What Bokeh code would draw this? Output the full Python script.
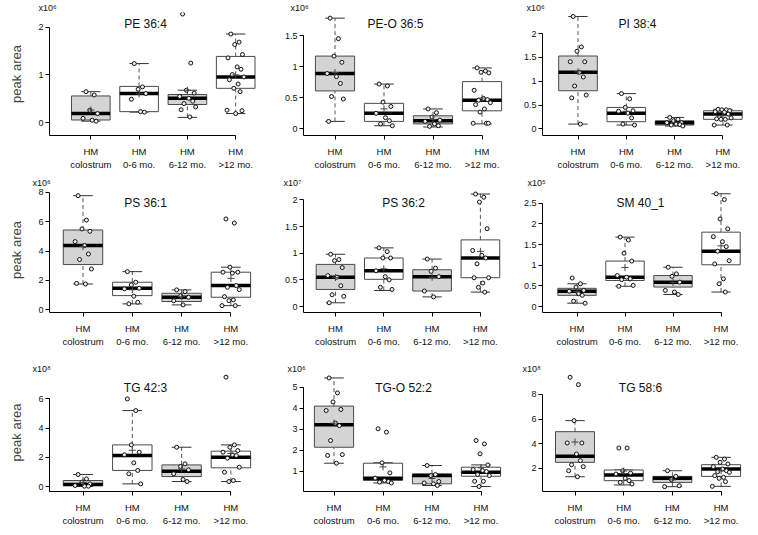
import numpy as np
from bokeh.plotting import figure
from bokeh.layouts import column, row
from bokeh.models import Range1d, FixedTicker, NumeralTickFormatter, Label
from bokeh.embed import file_html
from bokeh.resources import INLINE

# ---------------- data ----------------
CATEGORIES = ["HM\ncolostrum", "HM\n0-6 mo.", "HM\n6-12 mo.", "HM\n>12 mo."]
TITLES = ["PE 36:4", "PE-O 36:5", "PI 38:4",
          "PS 36:1", "PS 36:2", "SM 40_1",
          "TG 42:3", "TG-O 52:2", "TG 58:6"]
EXPONENTS = ["x10\u2076", "x10\u2076", "x10\u2076",
             "x10\u2076", "x10\u2077", "x10\u2075",
             "x10\u2078", "x10\u2076", "x10\u2078"]

# box stats per group: [whisker low, q1, median, q3, whisker high]
pe364_box = [[0.03, 0.055, 0.19, 0.56, 0.65], [0.22, 0.23, 0.61, 0.76, 1.24],
             [0.11, 0.38, 0.51, 0.59, 0.68], [0.19, 0.72, 0.96, 1.39, 1.86]]
pe364_pts = [[0.65, 0.58, 0.26, 0.19, 0.09, 0.05, 0.03],
             [1.24, 0.75, 0.70, 0.61, 0.49, 0.23, 0.22],
             [2.28, 1.25, 0.68, 0.62, 0.55, 0.51, 0.45, 0.40, 0.33, 0.27, 0.12],
             [1.86, 1.69, 1.64, 1.43, 1.36, 1.17, 1.12, 1.01, 0.96, 0.90, 0.81, 0.72, 0.65, 0.26, 0.25, 0.19]]
pe364_ticks = [0, 1, 2]

peo365_box = [[0.12, 0.61, 0.89, 1.17, 1.78], [0.05, 0.12, 0.25, 0.41, 0.72],
              [0.03, 0.08, 0.13, 0.21, 0.32], [0.08, 0.29, 0.46, 0.76, 0.98]]
peo365_pts = [[1.78, 1.45, 1.17, 1.07, 0.89, 0.84, 0.73, 0.52, 0.48, 0.12],
              [0.72, 0.69, 0.43, 0.36, 0.25, 0.18, 0.13, 0.08, 0.05],
              [0.32, 0.26, 0.19, 0.14, 0.12, 0.08, 0.05, 0.04],
              [0.98, 0.93, 0.91, 0.90, 0.62, 0.49, 0.47, 0.46, 0.42, 0.39, 0.32, 0.27, 0.09, 0.09, 0.09]]
peo365_ticks = [0, 0.5, 1, 1.5]

pi384_box = [[0.10, 0.80, 1.19, 1.53, 2.36], [0.08, 0.15, 0.33, 0.45, 0.74],
             [0.06, 0.08, 0.13, 0.17, 0.24], [0.08, 0.20, 0.31, 0.38, 0.41]]
pi384_pts = [[2.36, 1.72, 1.63, 1.41, 1.41, 1.19, 1.09, 0.90, 0.71, 0.65, 0.10],
             [0.74, 0.63, 0.45, 0.38, 0.37, 0.33, 0.23, 0.10, 0.08],
             [0.24, 0.20, 0.17, 0.13, 0.13, 0.10, 0.09, 0.08, 0.06],
             [0.41, 0.40, 0.40, 0.38, 0.36, 0.35, 0.31, 0.24, 0.23, 0.21, 0.20, 0.20, 0.08, 0.08]]
pi384_ticks = [0, 0.5, 1, 1.5, 2]

ps361_box = [[1.76, 3.08, 4.37, 5.43, 7.76], [0.41, 0.97, 1.47, 1.88, 2.60],
             [0.34, 0.57, 0.86, 1.13, 1.36], [0.29, 0.86, 1.65, 2.56, 2.90]]
ps361_pts = [[7.76, 6.10, 5.50, 5.34, 4.64, 4.37, 3.80, 3.42, 2.78, 1.80, 1.76],
             [2.60, 1.88, 1.70, 1.47, 1.43, 0.93, 0.52, 0.41],
             [1.36, 1.24, 0.95, 0.86, 0.62, 0.34],
             [6.18, 5.90, 2.90, 2.56, 2.56, 2.50, 1.65, 1.54, 1.38, 0.90, 0.68, 0.63, 0.29, 0.29]]
ps361_ticks = [0, 2, 4, 6, 8]

ps362_box = [[0.07, 0.32, 0.55, 0.79, 0.98], [0.30, 0.51, 0.67, 0.91, 1.10],
             [0.18, 0.29, 0.56, 0.69, 0.89], [0.27, 0.54, 0.91, 1.25, 2.11]]
ps362_pts = [[0.98, 0.88, 0.86, 0.73, 0.58, 0.55, 0.39, 0.22, 0.19, 0.07],
             [1.10, 1.03, 0.91, 0.91, 0.67, 0.56, 0.50, 0.36, 0.32],
             [0.89, 0.72, 0.66, 0.56, 0.29, 0.18],
             [2.11, 2.05, 1.96, 1.46, 1.05, 0.96, 0.91, 0.80, 0.54, 0.54, 0.44, 0.36, 0.27]]
ps362_ticks = [0, 0.5, 1, 1.5, 2]

sm401_box = [[0.08, 0.27, 0.37, 0.44, 0.55], [0.49, 0.63, 0.71, 1.10, 1.68],
             [0.29, 0.47, 0.59, 0.75, 0.95], [0.35, 1.01, 1.34, 1.80, 2.73]]
sm401_pts = [[0.69, 0.55, 0.47, 0.39, 0.37, 0.31, 0.27, 0.13, 0.08],
             [1.68, 1.61, 1.29, 1.10, 0.75, 0.71, 0.67, 0.65, 0.51, 0.49],
             [0.95, 0.79, 0.73, 0.59, 0.39, 0.35, 0.29],
             [2.73, 2.59, 2.12, 1.88, 1.69, 1.57, 1.45, 1.34, 1.11, 1.03, 0.67, 0.55, 0.35]]
sm401_ticks = [0, 0.5, 1, 1.5, 2, 2.5]

tg423_box = [[0.0, 0.07, 0.14, 0.41, 0.82], [0.18, 1.10, 2.12, 2.85, 5.20],
             [0.34, 0.68, 1.05, 1.48, 2.69], [0.34, 1.28, 2.01, 2.42, 2.85]]
tg423_pts = [[0.82, 0.52, 0.30, 0.18, 0.07, 0.02, 0.02],
             [6.00, 5.20, 2.85, 2.35, 2.17, 1.62, 1.10, 0.87, 0.18],
             [2.69, 1.55, 1.37, 1.14, 0.87, 0.48, 0.34],
             [7.49, 2.85, 2.69, 2.46, 2.35, 2.17, 2.12, 1.94, 1.32, 0.98, 0.41, 0.34]]
tg423_ticks = [0, 2, 4, 6]

tgo522_box = [[1.38, 2.14, 3.21, 4.10, 5.44], [0.44, 0.56, 0.67, 1.38, 1.40],
              [0.32, 0.40, 0.79, 0.87, 1.27], [0.27, 0.76, 0.95, 1.19, 1.30]]
tgo522_pts = [[5.44, 4.73, 4.30, 3.94, 3.89, 3.29, 3.17, 2.46, 1.79, 1.75, 1.38],
              [3.02, 2.86, 1.40, 0.92, 0.67, 0.56, 0.51, 0.48, 0.44],
              [1.27, 0.84, 0.79, 0.51, 0.44, 0.40, 0.32],
              [2.46, 2.30, 1.83, 1.30, 1.08, 1.03, 0.98, 0.84, 0.79, 0.52, 0.52, 0.27]]
tgo522_ticks = [1, 2, 3, 4, 5]

tg586_box = [[1.30, 2.47, 2.96, 4.97, 5.87], [0.63, 0.98, 1.44, 1.85, 1.85],
             [0.49, 0.84, 1.17, 1.33, 1.79], [0.52, 1.33, 1.93, 2.28, 2.88]]
tg586_pts = [[9.40, 8.80, 5.87, 4.05, 4.05, 3.15, 2.61, 2.28, 2.12, 1.79, 1.30],
             [3.64, 3.64, 1.79, 1.60, 1.52, 1.17, 0.98, 0.84, 0.71],
             [1.79, 1.33, 1.06, 0.57, 0.49],
             [2.88, 2.74, 2.47, 2.34, 2.12, 1.93, 1.79, 1.71, 1.66, 1.39, 1.25, 1.17, 0.90, 0.52]]
tg586_ticks = [2, 4, 6, 8]

BOXES = [pe364_box, peo365_box, pi384_box, ps361_box, ps362_box, sm401_box, tg423_box, tgo522_box, tg586_box]
POINTS = [pe364_pts, peo365_pts, pi384_pts, ps361_pts, ps362_pts, sm401_pts, tg423_pts, tgo522_pts, tg586_pts]
YTICKS = [pe364_ticks, peo365_ticks, pi384_ticks, ps361_ticks, ps362_ticks, sm401_ticks, tg423_ticks, tgo522_ticks, tg586_ticks]

# ---------------- layout / style ----------------
FONT = "Liberation Sans"
GROUP_FILL = ["#d4d4d4", "#ffffff", "#d4d4d4", "#ffffff"]
JITTER = [-0.10, 0.07, -0.02, 0.14, -0.16, 0.03, 0.11, -0.07, 0.17, -0.13, 0.05, -0.04, 0.09, -0.18, 0.13, 0.0]
BOX_W = 0.8
CAP_W = 0.4

# rows: fig top, fig bottom, frame top, frame bottom (picture px)
ROWS = [(0, 172, 11, 135), (172, 352, 187, 312), (352, 534, 373, 491)]
# cols: fig left, fig right, frame left
COLS = [(0, 262, 49), (262, 505, 303), (505, 757, 542)]
# per panel: first category px, category spacing px, zero px, px per unit
GEOM = [(90.3, 48.3, 122.0, 48.0), (334.5, 49.0, 128.3, 62.7), (577.5, 48.3, 128.3, 48.0),
        (82.5, 49.3, 309.4, 14.72), (335.0, 48.3, 306.0, 53.3), (576.5, 48.0, 306.0, 41.3),
        (82.5, 49.3, 486.0, 14.6), (333.5, 49.0, 491.7, 21.0), (574.5, 48.7, 492.2, 12.28)]
TITLE_POS = [(145, 23), (395, 23), (637, 23), (145, 202), (403, 202), (640, 202),
             (145, 387), (403, 387), (640, 387)]
EXP_LEFT = [38, 290, 526, 32, 283, 527, 32, 287, 522]


def make_panel(i):
    r, c = divmod(i, 3)
    ft, fb, T, B = ROWS[r]
    fl, fr, L = COLS[c]
    c1, d, p0, s = GEOM[i]
    xd = lambda px: 1 + (px - c1) / d
    yd = lambda py: (p0 - py) / s
    x0, x1 = xd(L), xd(fr)
    y0, y1 = yd(B), yd(T)
    p = figure(width=fr - fl, height=fb - ft,
               x_range=Range1d(x0, x1), y_range=Range1d(y0, y1),
               output_backend="svg", toolbar_location=None,
               min_border_left=L - fl, min_border_right=0,
               min_border_top=T - ft, min_border_bottom=fb - B)
    p.outline_line_color = None
    p.xgrid.visible = False
    p.ygrid.visible = False
    p.background_fill_color = "white"

    # scale factor shown above the y axis
    p.title.text = EXPONENTS[i]
    p.title.align = "left"
    p.title.offset = EXP_LEFT[i] - L
    p.title.standoff = 0
    p.title.text_font = FONT
    p.title.text_font_size = "9px"
    p.title.text_font_style = "normal"
    p.title.text_color = "#111111"

    box = np.array(BOXES[i])
    xs = np.arange(1, 5)
    lo, q1, med, q3, hi = box.T
    # whiskers
    p.segment(xs, q3, xs, hi, line_color="#555555", line_dash="4 3", line_width=1)
    p.segment(xs, lo, xs, q1, line_color="#555555", line_dash="4 3", line_width=1)
    p.segment(xs - CAP_W / 2, hi, xs + CAP_W / 2, hi, line_color="#333333", line_width=1)
    p.segment(xs - CAP_W / 2, lo, xs + CAP_W / 2, lo, line_color="#333333", line_width=1)
    # boxes
    p.vbar(x=xs, width=BOX_W, bottom=q1, top=q3, fill_color=GROUP_FILL,
           line_color="#4a4a4a", line_width=1)
    p.segment(xs - BOX_W / 2, med, xs + BOX_W / 2, med, line_color="black", line_width=3.5)
    # points
    px, py, means = [], [], []
    for g, vals in enumerate(POINTS[i]):
        for k, v in enumerate(vals):
            px.append(g + 1 + JITTER[k % len(JITTER)])
            py.append(v)
        means.append(float(np.mean(vals)))
    p.scatter(px, py, marker="circle", size=4, fill_color="#eeeeee",
              line_color="#111111", line_width=1)
    p.scatter(xs, means, marker="cross", size=7, line_color="#444444", line_width=1)

    # axes
    p.xaxis.ticker = FixedTicker(ticks=[1, 2, 3, 4])
    p.xaxis.major_label_overrides = {k + 1: CATEGORIES[k] for k in range(4)}
    p.xaxis.bounds = (x0, 4)
    p.yaxis.ticker = FixedTicker(ticks=YTICKS[i])
    p.yaxis.formatter = NumeralTickFormatter(format="0.[0]")
    p.yaxis.bounds = (y0, max(YTICKS[i]))
    for ax in (p.xaxis, p.yaxis):
        ax.axis_line_color = "black"
        ax.major_tick_line_color = "black"
        ax.minor_tick_line_color = None
        ax.major_tick_out = 4
        ax.major_tick_in = 0
        ax.major_label_text_font = FONT
        ax.major_label_text_color = "#111111"
    p.xaxis.major_label_text_font_size = "9.5px"
    p.xaxis.major_label_standoff = 6
    p.yaxis.major_label_text_font_size = "9px"
    p.yaxis.major_label_standoff = 2
    if c == 0:
        p.yaxis.axis_label = "peak area"
        p.yaxis.axis_label_text_font = FONT
        p.yaxis.axis_label_text_font_size = "13px"
        p.yaxis.axis_label_text_font_style = "normal"
        p.yaxis.axis_label_standoff = 11

    tx, ty = TITLE_POS[i]
    p.add_layout(Label(x=xd(tx), y=yd(ty), text=TITLES[i], text_align="center",
                       text_baseline="middle", text_font=FONT, text_font_size="12px",
                       text_color="#111111"))
    return p


panels = [make_panel(i) for i in range(9)]
layout = column(row(panels[0:3]), row(panels[3:6]), row(panels[6:9]))

open("out.html", "w").write(file_html(layout, INLINE))
